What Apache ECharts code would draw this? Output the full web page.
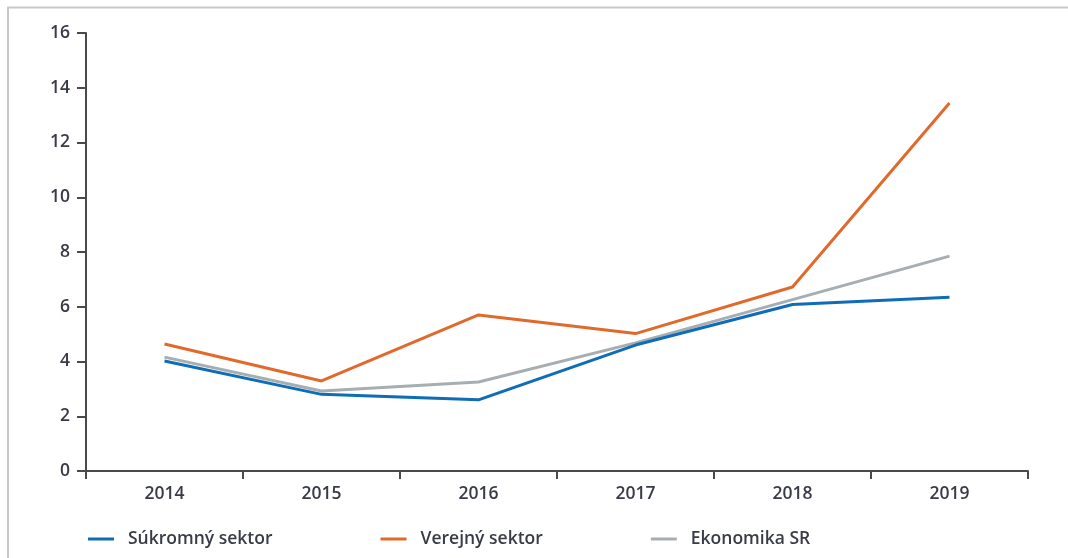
<!DOCTYPE html>
<html>
<head>
<meta charset="utf-8">
<script src="https://cdn.jsdelivr.net/npm/echarts@6/dist/echarts.min.js"></script>
<style>
  html, body { margin: 0; padding: 0; background: #fff; }
  #chart { width: 1068px; height: 558px; }
</style>
</head>
<body>
<div id="chart"></div>
<script>
const years = ['2014', '2015', '2016', '2017', '2018', '2019'];
const privateSector = [4.02, 2.8, 2.6, 4.6, 6.08, 6.35];
const publicSector = [4.64, 3.29, 5.7, 5.02, 6.72, 13.44];
const economySR = [4.16, 2.92, 3.25, 4.68, 6.26, 7.85];

const textColor = '#393b47';
const fontFamily = '"Open Sans", "Noto Sans", sans-serif';
const fontWeight = 600;
const fontSize = 17.5;

const chart = echarts.init(document.getElementById('chart'), null, { renderer: 'canvas' });

chart.setOption({
    animation: false,
    textStyle: { fontFamily, fontWeight },
    graphic: [
        {
            type: 'polyline',
            silent: true,
            shape: { points: [[8, 558], [8, 7.5], [1068, 7.5]] },
            style: { stroke: '#c9c9c9', lineWidth: 2, fill: null },
        },
    ],
    grid: {
        left: 86,
        right: 40,
        top: 33,
        bottom: 87,
    },
    legend: {
        left: 88,
        top: 530,
        padding: 0,
        icon: 'rect',
        itemWidth: 26,
        itemHeight: 3,
        itemGap: 108,
        textStyle: {
            color: textColor,
            fontSize,
            fontFamily,
            fontWeight,
            padding: [0, 0, 0, 9],
        },
        data: ['Súkromný sektor', 'Verejný sektor', 'Ekonomika SR'],
    },
    xAxis: {
        type: 'category',
        data: years,
        boundaryGap: true,
        axisLine: { lineStyle: { color: '#4a4a4a', width: 2 } },
        axisTick: { show: true, length: 8, alignWithLabel: false, lineStyle: { color: '#4a4a4a', width: 2 } },
        axisLabel: { color: textColor, fontSize, fontWeight, margin: 14 },
        splitLine: { show: false },
    },
    yAxis: {
        type: 'value',
        min: 0,
        max: 16,
        interval: 2,
        axisLine: { show: true, lineStyle: { color: '#4a4a4a', width: 2 } },
        axisTick: { show: true, length: 9, lineStyle: { color: '#4a4a4a', width: 2 } },
        axisLabel: { color: textColor, fontSize, fontWeight, margin: 16 },
        splitLine: { show: false },
    },
    series: [
        {
            name: 'Súkromný sektor',
            type: 'line',
            data: privateSector,
            symbol: 'none',
            lineStyle: { color: '#0f6cb6', width: 3 },
            itemStyle: { color: '#0f6cb6' },
            z: 3,
        },
        {
            name: 'Verejný sektor',
            type: 'line',
            data: publicSector,
            symbol: 'none',
            lineStyle: { color: '#e06a2c', width: 3 },
            itemStyle: { color: '#e06a2c' },
            z: 2,
        },
        {
            name: 'Ekonomika SR',
            type: 'line',
            data: economySR,
            symbol: 'none',
            lineStyle: { color: '#a7aeb1', width: 3 },
            itemStyle: { color: '#a7aeb1' },
            z: 2,
        },
    ],
});
</script>
</body>
</html>
